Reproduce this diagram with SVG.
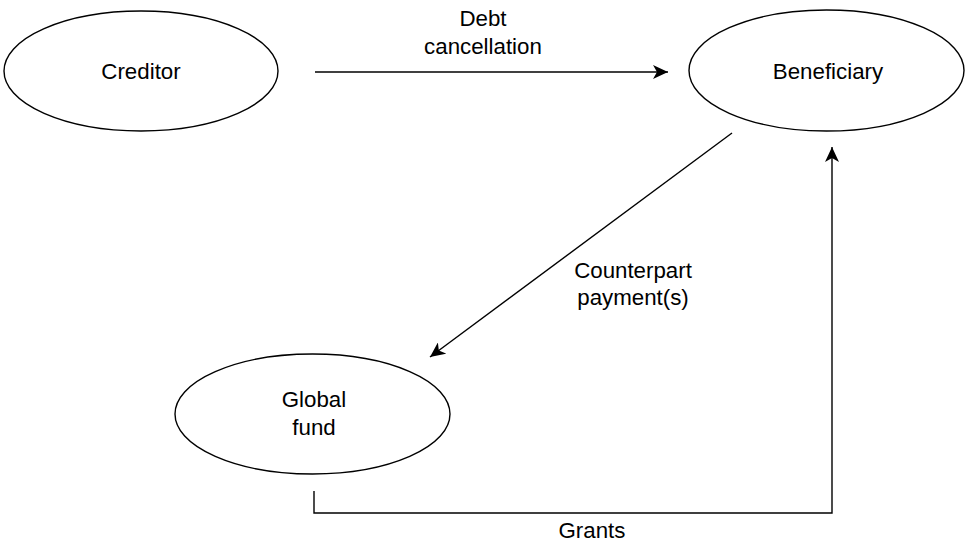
<svg xmlns="http://www.w3.org/2000/svg" width="968" height="552" viewBox="0 0 968 552">
<style>
.node{fill:#fff;stroke:#000;stroke-width:1.4}
.edge{fill:none;stroke:#000;stroke-width:1.4}
text{font-family:"Liberation Sans",Arial,Helvetica,sans-serif;font-size:22.3px;fill:#000;text-anchor:middle}
</style>
<defs>
<marker id="arr" markerUnits="userSpaceOnUse" markerWidth="16" markerHeight="14" refX="15" refY="7" orient="auto" viewBox="0 0 16 14">
<path d="M0,0 L15,7 L0,14 L4,7 z" fill="#000"/>
</marker>
</defs>
<rect width="968" height="552" fill="#fff"/>
<g id="creditor">
<ellipse class="node" cx="141" cy="71" rx="137" ry="60"/>
<text x="141" y="79">Creditor</text>
</g>
<g id="beneficiary">
<ellipse class="node" cx="826.5" cy="70.5" rx="137.5" ry="60.5"/>
<text x="828" y="79">Beneficiary</text>
</g>
<g id="globalfund">
<ellipse class="node" cx="312.5" cy="414" rx="137.5" ry="60"/>
<text x="314" y="407">Global</text>
<text x="314" y="435">fund</text>
</g>
<g id="connectors">
<line class="edge" x1="315" y1="72" x2="668" y2="72" marker-end="url(#arr)"/>
<text x="483" y="26">Debt</text>
<text x="483" y="54">cancellation</text>
<line class="edge" x1="732" y1="133" x2="430" y2="357" marker-end="url(#arr)"/>
<text x="633" y="278">Counterpart</text>
<text x="633" y="305">payment(s)</text>
<polyline class="edge" points="314,491 314,513 832,513 832,147" marker-end="url(#arr)"/>
<text x="592" y="538">Grants</text>
</g>
</svg>
